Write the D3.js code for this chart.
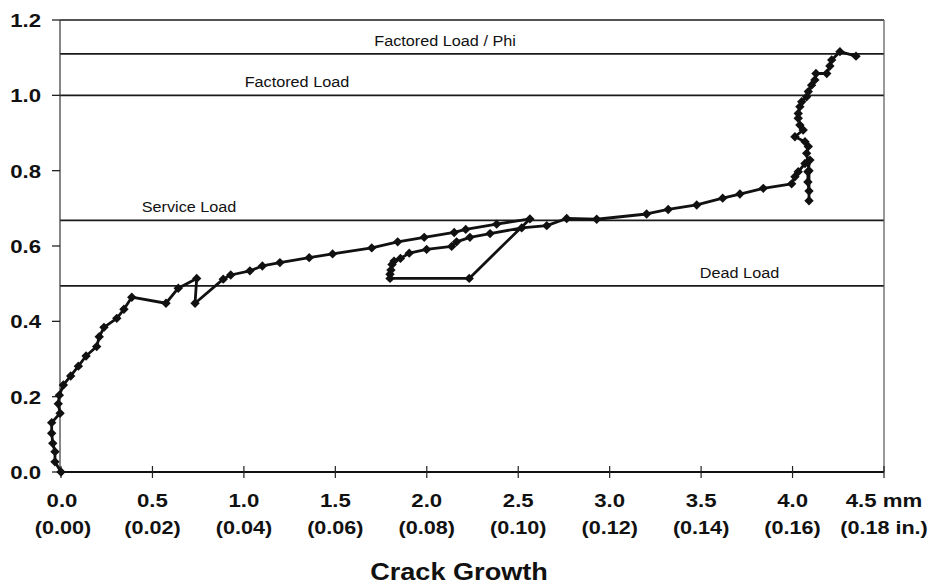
<!DOCTYPE html>
<html>
<head>
<meta charset="utf-8">
<script src="https://cdn.jsdelivr.net/npm/d3@7"></script>
<style>
  html, body { margin: 0; padding: 0; background: #fff; }
  svg { display: block; }
  text { font-family: "Liberation Sans", Arial, sans-serif; fill: #111; }
</style>
</head>
<body>
<svg id="chart" width="933" height="586"></svg>
<script>
// ---- data ----
const crackMm = [
  0.000, -0.033, -0.033, -0.045, -0.051, -0.051, -0.005, -0.015, -0.009, 0.013,
  0.053, 0.095, 0.137, 0.195, 0.209, 0.235, 0.305, 0.344, 0.387, 0.574,
  0.641, 0.742, 0.733, 0.887, 0.928, 1.033, 1.101, 1.197, 1.357, 1.485,
  1.699, 1.841, 1.986, 2.150, 2.213, 2.382, 2.564,
  2.232, 1.799,
  1.799, 1.804, 1.810, 1.821, 1.856, 1.904, 1.999, 2.136, 2.163, 2.236,
  2.346, 2.519, 2.656, 2.765, 2.929, 3.202, 3.320, 3.476, 3.618, 3.712,
  3.840, 3.995, 4.013, 4.031, 4.068, 4.095,
  4.084, 4.084, 4.090, 4.090, 4.090,
  4.077, 4.086, 4.068, 4.013, 4.058, 4.040, 4.031, 4.031, 4.040, 4.050,
  4.077, 4.086, 4.104, 4.122, 4.128, 4.187, 4.204, 4.214, 4.259, 4.347
];
const loadRatio = [
  0.000, 0.027, 0.054, 0.076, 0.103, 0.131, 0.156, 0.181, 0.204, 0.231,
  0.255, 0.281, 0.308, 0.333, 0.359, 0.384, 0.408, 0.432, 0.464, 0.448,
  0.488, 0.514, 0.448, 0.512, 0.523, 0.534, 0.547, 0.556, 0.569, 0.579,
  0.595, 0.611, 0.623, 0.636, 0.644, 0.658, 0.672,
  0.514, 0.514,
  0.525, 0.536, 0.551, 0.560, 0.567, 0.581, 0.591, 0.599, 0.611, 0.623,
  0.633, 0.648, 0.654, 0.673, 0.671, 0.685, 0.697, 0.709, 0.727, 0.738,
  0.753, 0.765, 0.784, 0.797, 0.819, 0.828,
  0.797, 0.770, 0.746, 0.720, 0.800,
  0.846, 0.864, 0.877, 0.890, 0.908, 0.921, 0.939, 0.952, 0.970, 0.983,
  0.996, 1.010, 1.027, 1.041, 1.058, 1.058, 1.078, 1.094, 1.116, 1.104
];
const loadLevels = [1.11, 1.0, 0.668, 0.494];
const loadLabels = ["Factored Load / Phi", "Factored Load", "Service Load", "Dead Load"];
const loadLabelAt = [2.10, 1.29, 0.70, 3.71];   // crack-growth position of each label centre
const xTicks = [0, 0.5, 1.0, 1.5, 2.0, 2.5, 3.0, 3.5, 4.0, 4.5];
const xTickMm = ["0.0", "0.5", "1.0", "1.5", "2.0", "2.5", "3.0", "3.5", "4.0", "4.5 mm"];
const xTickIn = ["(0.00)", "(0.02)", "(0.04)", "(0.06)", "(0.08)", "(0.10)", "(0.12)", "(0.14)", "(0.16)", "(0.18 in.)"];
const yTicks = [0, 0.2, 0.4, 0.6, 0.8, 1.0, 1.2];
const xTitle = "Crack Growth";

// ---- layout ----
const svg = d3.select("#chart");
const x = d3.scaleLinear().domain([0, 4.5]).range([61, 884]);
const y = d3.scaleLinear().domain([0, 1.2]).range([472, 20]);

function sText(g, px, py, str, anchor, size, weight, sx) {
  return g.append("text")
    .attr("transform", `translate(${px},${py}) scale(${sx},1)`)
    .attr("text-anchor", anchor)
    .style("font-size", size + "px")
    .style("font-weight", weight)
    .text(str);
}

// load level lines + top line
const grid = svg.append("g");
grid.selectAll("line.lvl").data(loadLevels.concat([1.2])).join("line")
  .attr("x1", x(0) - 1).attr("x2", x(4.5))
  .attr("y1", d => y(d)).attr("y2", d => y(d))
  .attr("stroke", "#1a1a1a").attr("stroke-width", 1.7);

// right border
grid.append("line")
  .attr("x1", x(4.5)).attr("x2", x(4.5)).attr("y1", y(1.2)).attr("y2", y(0))
  .attr("stroke", "#555").attr("stroke-width", 1.2);

// load labels
loadLabels.forEach((t, i) => {
  sText(svg, x(loadLabelAt[i]), y(loadLevels[i]) - 8, t, "middle", 14.5, "normal", 1.12);
});

// y axis
const yAxisG = svg.append("g");
yAxisG.append("line")
  .attr("x1", x(0) - 1).attr("x2", x(0) - 1).attr("y1", y(1.2)).attr("y2", y(0))
  .attr("stroke", "#444").attr("stroke-width", 1.3);
yAxisG.selectAll("line.tk").data(yTicks).join("line")
  .attr("x1", x(0) - 9).attr("x2", x(0) - 1)
  .attr("y1", d => y(d)).attr("y2", d => y(d))
  .attr("stroke", "#222").attr("stroke-width", 1.3);
yTicks.forEach(v => {
  sText(yAxisG, 41, y(v) + 7, d3.format(".1f")(v), "end", 18.5, "bold", 1.2);
});

// x axis
const xAxisG = svg.append("g");
xAxisG.append("line")
  .attr("x1", x(0) - 1).attr("x2", x(4.5)).attr("y1", y(0)).attr("y2", y(0))
  .attr("stroke", "#111").attr("stroke-width", 2);
xAxisG.selectAll("line.tk").data(xTicks).join("line")
  .attr("x1", d => x(d)).attr("x2", d => x(d))
  .attr("y1", y(0) - 6).attr("y2", y(0) + 6)
  .attr("stroke", "#222").attr("stroke-width", 1.2);
xTicks.forEach((v, i) => {
  sText(xAxisG, x(v) + (i === 0 ? 1 : 0), 507, xTickMm[i], "middle", 18.5, "bold", 1.2);
  sText(xAxisG, x(v) + (i === 0 ? 2 : 0), 534, xTickIn[i], "middle", 18, "bold", 1.2);
});
sText(svg, 459, 580, xTitle, "middle", 24, "bold", 1.13);

// data line + markers
const pts = crackMm.map((c, i) => [c, loadRatio[i]]);
svg.append("path")
  .datum(pts)
  .attr("fill", "none")
  .attr("stroke", "#111")
  .attr("stroke-width", 2.8)
  .attr("stroke-linejoin", "round")
  .attr("d", d3.line().x(d => x(d[0])).y(d => y(d[1])));

const marker = d3.symbol().type(d3.symbolSquare).size(44);
svg.append("g").selectAll("path").data(pts).join("path")
  .attr("d", marker)
  .attr("transform", d => `translate(${x(d[0])},${y(d[1])}) rotate(45)`)
  .attr("fill", "#111");
</script>
</body>
</html>
